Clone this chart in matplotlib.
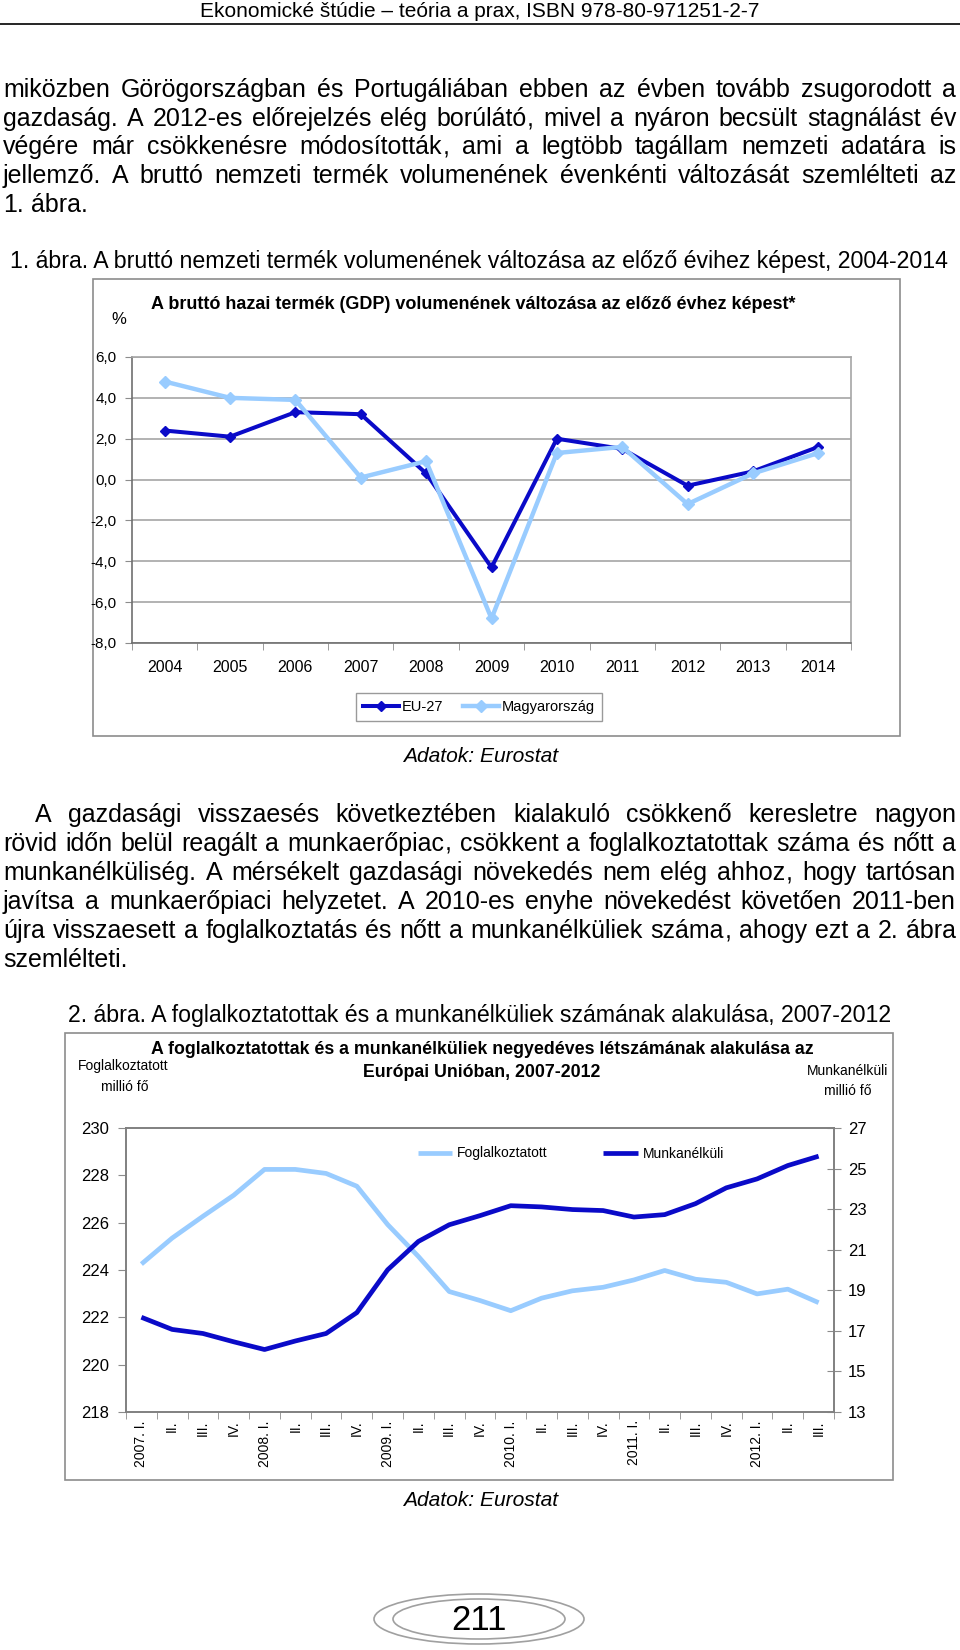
import matplotlib
matplotlib.use('Agg')
import matplotlib.pyplot as plt
from matplotlib.patches import Rectangle, Ellipse
import numpy as np

plt.rcParams['font.family'] = ['Liberation Sans', 'DejaVu Sans']

# ---------------- data ----------------
years = ['2004', '2005', '2006', '2007', '2008', '2009', '2010', '2011', '2012', '2013', '2014']
eu27 = [2.4, 2.1, 3.3, 3.2, 0.3, -4.3, 2.0, 1.5, -0.3, 0.4, 1.6]
hungary = [4.8, 4.0, 3.9, 0.1, 0.9, -6.8, 1.3, 1.6, -1.2, 0.3, 1.3]

quarters = ['2007. I.', 'II.', 'III.', 'IV.', '2008. I.', 'II.', 'III.', 'IV.',
            '2009. I.', 'II.', 'III.', 'IV.', '2010. I.', 'II.', 'III.', 'IV.',
            '2011. I.', 'II.', 'III.', 'IV.', '2012. I.', 'II.', 'III.']
employed = [224.25, 225.35, 226.27, 227.16, 228.25, 228.25, 228.08, 227.54,
            225.92, 224.57, 223.09, 222.71, 222.28, 222.81, 223.12, 223.27,
            223.58, 223.98, 223.61, 223.48, 222.99, 223.19, 222.62]
unemployed = [17.67, 17.07, 16.87, 16.46, 16.08, 16.50, 16.87, 17.90,
              20.01, 21.41, 22.23, 22.68, 23.17, 23.11, 22.98, 22.93,
              22.61, 22.73, 23.27, 24.05, 24.49, 25.15, 25.61]

header = 'Ekonomické štúdie – teória a prax, ISBN 978-80-971251-2-7'
para1 = ['miközben Görögországban és Portugáliában ebben az évben tovább zsugorodott a',
         'gazdaság. A 2012-es előrejelzés elég borúlátó, mivel a nyáron becsült stagnálást év',
         'végére már csökkenésre módosították, ami a legtöbb tagállam nemzeti adatára is',
         'jellemző. A bruttó nemzeti termék volumenének évenkénti változását szemlélteti az',
         '1. ábra.']
caption1 = '1. ábra. A bruttó nemzeti termék volumenének változása az előző évihez képest, 2004-2014'
title1 = 'A bruttó hazai termék (GDP) volumenének változása az előző évhez képest*'
note1 = '* 2012, 2013 és 2014 előrejelzés'
para2 = ['A gazdasági visszaesés következtében kialakuló csökkenő keresletre nagyon',
         'rövid időn belül reagált a munkaerőpiac, csökkent a foglalkoztatottak száma és nőtt a',
         'munkanélküliség. A mérsékelt gazdasági növekedés nem elég ahhoz, hogy tartósan',
         'javítsa a munkaerőpiaci helyzetet. A 2010-es enyhe növekedést követően 2011-ben',
         'újra visszaesett a foglalkoztatás és nőtt a munkanélküliek száma, ahogy ezt a 2. ábra',
         'szemlélteti.']
caption2 = '2. ábra. A foglalkoztatottak és a munkanélküliek számának alakulása, 2007-2012'
title2a = 'A foglalkoztatottak és a munkanélküliek negyedéves létszámának alakulása az'
title2b = 'Európai Unióban, 2007-2012'
source = 'Adatok: Eurostat'

DARK = '#0A0AC8'
LIGHT = '#99CCFF'
GREY = '#8C8C8C'

W, H = 960, 1650
fig = plt.figure(figsize=(9.6, 16.5), dpi=100)
bg = fig.add_axes([0, 0, 1, 1])
bg.set_xlim(0, W)
bg.set_ylim(H, 0)
bg.axis('off')
r = fig.canvas.get_renderer()


def tw(t):
    return t.get_window_extent(renderer=r).width


def fit(x, y, s, width, ha='left', va='baseline', base=12, **kw):
    t = bg.text(x, y, s, ha=ha, va=va, fontsize=base, **kw)
    t.set_fontsize(base * width / tw(t))
    return t


BODY = 18.0


def word_texts(word, y, fs):
    # a trailing comma is drawn as its own piece, right after the word
    if word.endswith(',') and len(word) > 1:
        a = bg.text(0, y, word[:-1], fontsize=fs, ha='left', va='baseline')
        b = bg.text(0, y, ',', fontsize=fs, ha='left', va='baseline')
        wa = tw(a)
        wb = tw(b)
        return [(a, 0.0), (b, wa + 0.6)], wa + 0.6 + wb
    t = bg.text(0, y, word, fontsize=fs, ha='left', va='baseline')
    return [(t, 0.0)], tw(t)


def justify(line, y, x0, x1, fs, last=False):
    words = line.split()
    pieces = [word_texts(w, y, fs) for w in words]
    ws = [p[1] for p in pieces]
    space = 0.278 * fs * 100 / 72
    if last or len(words) == 1:
        gap = space
    else:
        gap = (x1 - x0 - sum(ws)) / (len(words) - 1)
    x = x0
    for (parts, w) in pieces:
        for t, off in parts:
            t.set_x(x + off)
        x += w + gap


def rect(x0, y0, x1, y1):
    return [x0 / W, 1 - y1 / H, (x1 - x0) / W, (y1 - y0) / H]


# ---------------- page text ----------------
fit(480, 17, header, 561, ha='center')
bg.plot([0, W], [23.5, 23.5], color='black', lw=1.2)

base1 = [97, 126, 154, 183, 212]
for i, (ln, y) in enumerate(zip(para1, base1)):
    justify(ln, y, 3, 956, BODY, last=(i == len(para1) - 1))

fit(479, 268, caption1, 942, ha='center')

base2 = [822, 851, 880, 909, 938, 967]
for i, (ln, y) in enumerate(zip(para2, base2)):
    justify(ln, y, 35 if i == 0 else 3, 956, BODY, last=(i == len(para2) - 1))

fit(480, 1022, caption2, 830, ha='center')

# ---------------- chart 1 ----------------
bg.add_patch(Rectangle((93, 279), 807, 457, fill=False, ec=GREY, lw=1.2))
fit(151, 309, title1, 642, ha='left', weight='bold')
bg.text(119, 319, '%', ha='center', va='center', fontsize=12)
fit(839, 376, note1, 210, ha='right', va='center')

ax1 = fig.add_axes(rect(132, 357, 851, 643))
ax1.set_facecolor('white')
x1 = np.arange(len(years))
ax1.plot(x1, eu27, color=DARK, lw=2.9, marker='D', ms=5.6, zorder=3, label='EU-27')
ax1.plot(x1, hungary, color=LIGHT, lw=3.2, marker='D', ms=5.8, zorder=4, label='Magyarország')
ax1.set_xlim(-0.5, len(years) - 0.5)
ax1.set_ylim(-8, 6)
yt = np.arange(-8, 7, 2)
ax1.set_yticks(yt)
ax1.set_yticklabels([f'{v:.1f}'.replace('.', ',') for v in yt])
ax1.yaxis.grid(True, color='#A6A6A6', lw=1.2)
ax1.set_axisbelow(True)
ax1.set_xticks(x1)
ax1.set_xticklabels(years)
ax1.set_xticks(np.arange(-0.5, len(years), 1), minor=True)
ax1.tick_params(axis='x', which='major', length=0, pad=12, labelsize=11.5)
ax1.tick_params(axis='x', which='minor', length=5, direction='out', color=GREY)
ax1.tick_params(axis='y', length=5, direction='out', color=GREY, pad=6, labelsize=11)
for s in ['left', 'bottom']:
    ax1.spines[s].set_color('#6F6F6F')
    ax1.spines[s].set_linewidth(1.2)
for s in ['top', 'right']:
    ax1.spines[s].set_color('#A6A6A6')
    ax1.spines[s].set_linewidth(1.2)
leg1 = ax1.legend(loc='center', bbox_to_anchor=(479 / W, 1 - 707 / H),
                  bbox_transform=fig.transFigure, ncol=2, fontsize=10.5,
                  frameon=True, fancybox=False, edgecolor='#9A9A9A', framealpha=1,
                  handlelength=2.5, handletextpad=0.2, columnspacing=1.3,
                  borderpad=0.5, borderaxespad=0)
leg1.get_frame().set_linewidth(1.0)

fit(481, 756, source, 155, ha='center', va='center', style='italic')

# ---------------- chart 2 ----------------
bg.add_patch(Rectangle((65, 1033), 828, 447, fill=False, ec=GREY, lw=1.2))
t2a = fit(482, 1054, title2a, 655, ha='center', weight='bold')
bg.text(482, 1077, title2b, ha='center', va='baseline', weight='bold',
        fontsize=t2a.get_fontsize())
bg.text(123, 1066, 'Foglalkoztatott', ha='center', va='center', fontsize=10)
bg.text(125, 1087, 'millió fő', ha='center', va='center', fontsize=10)
bg.text(848, 1071, 'Munkanélküli', ha='center', va='center', fontsize=10)
bg.text(848, 1091, 'millió fő', ha='center', va='center', fontsize=10)

ax2 = fig.add_axes(rect(126, 1128, 834, 1412))
ax2.set_facecolor('white')
xq = np.arange(len(quarters))
l1, = ax2.plot(xq, employed, color=LIGHT, lw=3.4, label='Foglalkoztatott', solid_capstyle='butt')
ax2.set_xlim(-0.5, len(quarters) - 0.5)
ax2.set_ylim(218, 230)
ax2.set_yticks(np.arange(218, 231, 2))
ax2.set_xticks(xq)
ax2.set_xticklabels(quarters, rotation=90)
ax2.set_xticks(np.arange(-0.5, len(quarters), 1), minor=True)
ax2.tick_params(axis='x', which='major', length=0, pad=6, labelsize=10)
ax2.tick_params(axis='x', which='minor', length=5, direction='out', color=GREY)
ax2.tick_params(axis='y', length=6, direction='out', color=GREY, pad=6, labelsize=12)

ax2r = ax2.twinx()
l2, = ax2r.plot(xq, unemployed, color=DARK, lw=3.4, label='Munkanélküli', solid_capstyle='butt')
ax2r.set_ylim(13, 27)
ax2r.set_yticks(np.arange(13, 28, 2))
ax2r.tick_params(axis='y', length=10, direction='inout', color=GREY, pad=5, labelsize=12)
for a in (ax2, ax2r):
    for s in a.spines.values():
        s.set_color('#808080')
        s.set_linewidth(1.2)
bg.add_patch(Rectangle((386, 1138), 362, 31, facecolor='white', ec='#9A9A9A', lw=1.0, zorder=1))
leg2 = ax2r.legend(handles=[l1, l2], loc='center', bbox_to_anchor=(571 / W, 1 - 1153.5 / H),
                   bbox_transform=fig.transFigure, ncol=2, fontsize=10,
                   frameon=False, handlelength=2.5, handletextpad=0.35, columnspacing=4.0,
                   borderpad=0.3, borderaxespad=0)

fit(481, 1500, source, 155, ha='center', va='center', style='italic')

# ---------------- page number ----------------
bg.add_patch(Ellipse((479, 1619), 210, 50, fill=False, ec='#A0A0A0', lw=1.2))
bg.add_patch(Ellipse((479, 1619), 172, 40, fill=False, ec='#A0A0A0', lw=1.2))
bg.text(479, 1620, '211', ha='center', va='center', fontsize=25,
        family=['Liberation Sans Narrow', 'Liberation Sans'])

fig.savefig('out.png', dpi=100)
